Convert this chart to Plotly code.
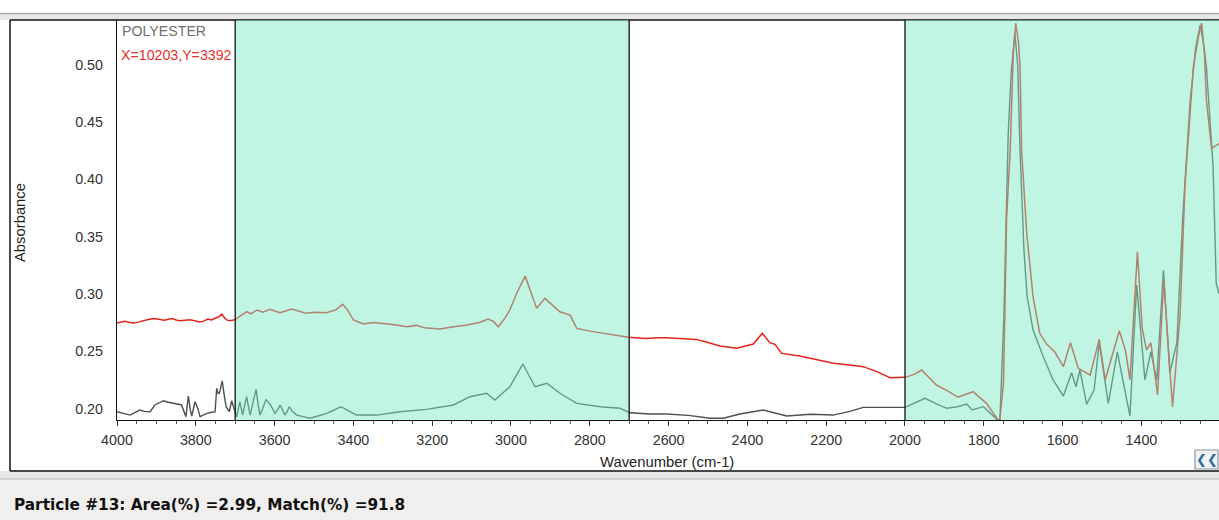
import plotly.graph_objects as go

W, H = 1219, 520

# ---------------- data ----------------
wn_sample = [4000, 3990, 3980, 3968, 3955, 3942, 3930, 3918, 3905, 3892, 3880, 3870, 3860, 3850, 3840, 3828,
             3815, 3803, 3790, 3780, 3770, 3760, 3750, 3742, 3734, 3727, 3720, 3710, 3700,
             3685, 3671, 3660, 3645, 3630, 3612, 3600, 3586, 3572, 3557, 3540, 3519, 3505, 3490, 3468, 3445, 3427,
             3413, 3400, 3375, 3350, 3324, 3295, 3265, 3240, 3220, 3200, 3180, 3150, 3112, 3080, 3058, 3045, 3032,
             3015, 3003, 2985, 2964, 2950, 2935, 2914, 2895, 2876, 2850, 2833, 2800, 2774, 2740, 2702, 2656, 2630,
             2605, 2560, 2529, 2500, 2470, 2427, 2400, 2385, 2362, 2343, 2330, 2313, 2267, 2220, 2182, 2140,
             2106, 2070, 2038, 2000, 1975, 1958, 1940, 1920, 1890, 1865, 1845, 1827, 1810, 1793, 1767,
             1760, 1750, 1742, 1733, 1725, 1719, 1712, 1708, 1704, 1691, 1675, 1658, 1640, 1620, 1598,
             1580, 1560, 1530, 1507, 1492, 1475, 1456, 1440, 1429, 1410, 1398, 1387, 1376, 1359, 1343,
             1335, 1321, 1302, 1289, 1268, 1255, 1247, 1240, 1235, 1222, 1212, 1203]
abs_sample = [0.2745, 0.2752, 0.2760, 0.2750, 0.2745, 0.2758, 0.2770, 0.2778, 0.2785, 0.2775, 0.2770, 0.2778, 0.2785, 0.2772, 0.2765, 0.2770,
              0.2775, 0.2765, 0.2755, 0.2762, 0.2780, 0.2772, 0.2790, 0.2800, 0.2824, 0.2790, 0.2770, 0.2768, 0.2775,
              0.2810, 0.2844, 0.2825, 0.2859, 0.2840, 0.2865, 0.2850, 0.2835, 0.2850, 0.2868, 0.2850, 0.2830, 0.2838, 0.2840, 0.2835, 0.2860, 0.2909,
              0.2850, 0.2772, 0.2737, 0.2750, 0.2743, 0.2730, 0.2713, 0.2725, 0.2705, 0.2700, 0.2693, 0.2710, 0.2728, 0.2750, 0.2780, 0.2760, 0.2713,
              0.2790, 0.2859, 0.3010, 0.3155, 0.3020, 0.2874, 0.2961, 0.2900, 0.2844, 0.2815, 0.2699, 0.2675, 0.2661, 0.2640, 0.2621, 0.2610, 0.2618,
              0.2617, 0.2605, 0.2603, 0.2575, 0.2545, 0.2525, 0.2545, 0.2562, 0.2656, 0.2574, 0.2560, 0.2481, 0.2458, 0.2425, 0.2394, 0.2380,
              0.2365, 0.2320, 0.2269, 0.2272, 0.2300, 0.2336, 0.2270, 0.2205, 0.2150, 0.2098, 0.2125, 0.2147, 0.2095, 0.2045, 0.1915,
              0.1880, 0.2220, 0.3670, 0.4250, 0.5100, 0.5360, 0.5200, 0.4980, 0.4250, 0.3528, 0.2975, 0.2656, 0.2560, 0.2495, 0.2365,
              0.2574, 0.2351, 0.2292, 0.2603, 0.2249, 0.2450, 0.2679, 0.2500, 0.2249, 0.3367, 0.2700, 0.2510, 0.2574, 0.2118, 0.3121,
              0.2700, 0.2016, 0.2801, 0.3964, 0.4980, 0.5250, 0.5360, 0.5100, 0.4690, 0.4270, 0.4290, 0.4310]

wn_library = [4000, 3985, 3967, 3955, 3942, 3930, 3916, 3904, 3893, 3882, 3870, 3857, 3846, 3836, 3825, 3819, 3814,
              3810, 3806, 3802, 3795, 3789, 3780, 3772, 3762, 3751,
              3747, 3743, 3740, 3736, 3733, 3728, 3723, 3715, 3709, 3704, 3700, 3696, 3692, 3688, 3684, 3681, 3676,
              3671, 3666, 3662, 3655, 3647, 3642, 3637, 3630, 3622, 3610,
              3599, 3592, 3586, 3580, 3574, 3568, 3563, 3555, 3544, 3527, 3510, 3490, 3468, 3450, 3432, 3412, 3392, 3341,
              3282, 3214, 3146, 3104, 3062,
              3041, 3003, 2970, 2939, 2909, 2876, 2833, 2774, 2723, 2698, 2647, 2605, 2550, 2495, 2461,
              2419, 2360, 2300, 2240, 2182, 2140, 2106, 2050, 2000, 1975, 1949, 1920, 1894, 1867, 1843,
              1830, 1801, 1767, 1759, 1749, 1738, 1730, 1721, 1714, 1708, 1698, 1690, 1675, 1649, 1624,
              1598, 1577, 1566, 1556, 1539, 1520, 1507, 1484, 1461, 1442, 1429, 1412, 1391, 1376, 1361,
              1344, 1328, 1310, 1295, 1276, 1262, 1251, 1243, 1235, 1218, 1210, 1203]
abs_library = [0.1972, 0.1960, 0.1943, 0.1965, 0.1987, 0.1975, 0.1972, 0.2031, 0.2050, 0.2068, 0.2055, 0.2045, 0.2040, 0.2031, 0.1929, 0.2109, 0.1990,
               0.1935, 0.2000, 0.2059, 0.2000, 0.1929, 0.1945, 0.1958, 0.1965, 0.1972,
               0.2176, 0.2130, 0.2133, 0.2200, 0.2242, 0.2120, 0.2016, 0.1972, 0.2068, 0.2010, 0.1972, 0.1929, 0.2000, 0.2059, 0.1990, 0.1943, 0.2030,
               0.2103, 0.2010, 0.1943, 0.2050, 0.2167, 0.2040, 0.1943, 0.2000, 0.2080, 0.2030,
               0.1958, 0.1990, 0.2031, 0.1990, 0.1943, 0.1975, 0.2016, 0.1975, 0.1943, 0.1930, 0.1915, 0.1935, 0.1958, 0.1985, 0.2016, 0.1980, 0.1943, 0.1943,
               0.1972, 0.1993, 0.2031, 0.2103, 0.2133,
               0.2074, 0.2190, 0.2388, 0.2190, 0.2220, 0.2133, 0.2045, 0.2016, 0.2002, 0.1963, 0.1952, 0.1952, 0.1940, 0.1915, 0.1915,
               0.1952, 0.1987, 0.1935, 0.1950, 0.1943, 0.1975, 0.2010, 0.2010, 0.2010, 0.2050, 0.2089, 0.2040, 0.2002, 0.2016, 0.2039,
               0.1987, 0.2016, 0.1906, 0.1900, 0.2801, 0.4400, 0.4950, 0.5270, 0.5000, 0.4250, 0.3380, 0.2975, 0.2685, 0.2452, 0.2249,
               0.2109, 0.2312, 0.2190, 0.2336, 0.2039, 0.2161, 0.2574, 0.2045, 0.2495, 0.2161, 0.1935, 0.3077, 0.2249, 0.2495, 0.2249,
               0.3208, 0.2312, 0.2574, 0.3670, 0.4690, 0.5150, 0.5340, 0.5200, 0.4980, 0.4110, 0.3090, 0.3000]

x_ticks = [4000, 3800, 3600, 3400, 3200, 3000, 2800, 2600, 2400, 2200, 2000, 1800, 1600, 1400]
y_ticks = [0.20, 0.25, 0.30, 0.35, 0.40, 0.45, 0.50]
highlight_regions = [(3700, 2700), (2000, 1203)]
region_edges = [3700, 2700, 2000]

X_RANGE = [4000, 1203]
Y_RANGE = [0.1900, 0.5388]


def px(x):
    return x / W


def py(y):
    return 1 - y / H


fig = go.Figure()
fig.add_trace(go.Scatter(x=wn_library, y=abs_library, mode="lines",
                         line=dict(color="#4f4f4f", width=1.4), hoverinfo="skip", showlegend=False))
fig.add_trace(go.Scatter(x=wn_sample, y=abs_sample, mode="lines",
                         line=dict(color="#e4231c", width=1.5), hoverinfo="skip", showlegend=False))

shapes = []
# window chrome
shapes.append(dict(type="rect", xref="paper", yref="paper", x0=0, x1=1, y0=py(20), y1=py(13),
                   fillcolor="#e7e7e7", line=dict(width=0), layer="below"))
shapes.append(dict(type="line", xref="paper", yref="paper", x0=0, x1=1, y0=py(13.5), y1=py(13.5),
                   line=dict(color="#a9a9a9", width=1.5), layer="below"))
shapes.append(dict(type="rect", xref="paper", yref="paper", x0=0, x1=1, y0=py(479), y1=py(471),
                   fillcolor="#e7e7e7", line=dict(width=0), layer="below"))
shapes.append(dict(type="rect", xref="paper", yref="paper", x0=0, x1=1, y0=0, y1=py(479),
                   fillcolor="#f0efee", line=dict(width=0), layer="below"))
shapes.append(dict(type="line", xref="paper", yref="paper", x0=0, x1=1, y0=py(479), y1=py(479),
                   line=dict(color="#b9b9b9", width=1.2), layer="below"))
# panel border (left, top, bottom)
for (x0, y0, x1, y1) in [(10, 20, 10, 471), (10, 20, 1219, 20), (10, 471, 1219, 471)]:
    shapes.append(dict(type="line", xref="paper", yref="paper", x0=px(x0), x1=px(x1), y0=py(y0), y1=py(y1),
                       line=dict(color="#111111", width=1.5), layer="above"))

# highlighted regions (translucent, drawn over the traces)
for a, b in highlight_regions:
    shapes.append(dict(type="rect", xref="x", yref="y domain", x0=a, x1=b, y0=0, y1=1,
                       fillcolor="rgba(124,234,199,0.48)", line=dict(width=0), layer="above"))
for e in region_edges:
    shapes.append(dict(type="line", xref="x", yref="y domain", x0=e, x1=e, y0=0, y1=1,
                       line=dict(color="#111111", width=1.3), layer="above"))

# "<<" button
shapes.append(dict(type="rect", xref="paper", yref="paper", x0=px(1195), x1=px(1218), y0=py(469), y1=py(450),
                   fillcolor="#eef2f5", line=dict(color="#8a97a3", width=1.2), layer="above"))

annotations = [
    dict(text="POLYESTER", x=px(120), y=py(31), xref="paper", yref="paper", xanchor="left", yanchor="middle",
         showarrow=False, font=dict(family="Liberation Sans, Arial", size=14.2, color="#707070")),
    dict(text="X=10203,Y=3392", x=px(119), y=py(55), xref="paper", yref="paper", xanchor="left", yanchor="middle",
         showarrow=False, font=dict(family="Liberation Sans, Arial", size=14.2, color="#e8302a")),
    dict(text="Absorbance", x=px(20), y=py(223), xref="paper", yref="paper", xanchor="center", yanchor="middle",
         textangle=-90, showarrow=False, font=dict(family="Liberation Sans, Arial", size=14.8, color="#222222")),
    dict(text="Wavenumber (cm-1)", x=px(667), y=py(462), xref="paper", yref="paper", xanchor="center",
         yanchor="middle", showarrow=False, font=dict(family="Liberation Sans, Arial", size=14.8, color="#222222")),
    dict(text="<b>Particle #13: Area(%) =2.99, Match(%) =91.8</b>", x=px(12), y=py(505), xref="paper",
         yref="paper", xanchor="left", yanchor="middle", showarrow=False,
         font=dict(family="DejaVu Sans", size=15.3, color="#111111")),
    dict(text="<b>❮❮</b>", x=px(1206.5), y=py(459.5), xref="paper", yref="paper", xanchor="center",
         yanchor="middle", showarrow=False, font=dict(family="DejaVu Sans", size=13, color="#2d6a96")),
]

fig.update_layout(
    width=W, height=H,
    margin=dict(l=0, r=0, t=0, b=0, pad=0),
    paper_bgcolor="white", plot_bgcolor="white",
    shapes=shapes, annotations=annotations,
    showlegend=False,
    xaxis=dict(domain=[px(117), 1], range=X_RANGE, tickvals=x_ticks, ticktext=[str(t) for t in x_ticks],
               showgrid=False, zeroline=False, showline=True, linecolor="#111111", linewidth=1.3,
               ticks="outside", ticklen=5, tickcolor="#333333", tickwidth=1,
               minor=dict(dtick=50, ticks="outside", ticklen=3, tickcolor="#555555", showgrid=False),
               tickfont=dict(family="Liberation Sans, Arial", size=14.3, color="#333333"),
               ticklabelstandoff=2, fixedrange=True, automargin=False),
    yaxis=dict(domain=[py(420), py(20)], range=Y_RANGE, tickvals=y_ticks, ticktext=[f"{v:.2f}" for v in y_ticks],
               showgrid=False, zeroline=False, showline=True, linecolor="#111111", linewidth=1.3,
               ticks="", tickfont=dict(family="Liberation Sans, Arial", size=14.3, color="#333333"),
               ticklabelstandoff=10, fixedrange=True, automargin=False),
)

fig.write_html("out.html")
